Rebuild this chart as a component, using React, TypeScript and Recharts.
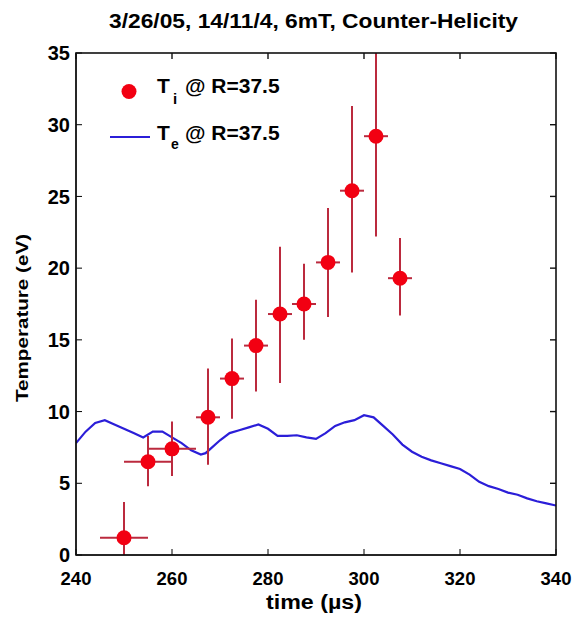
import React from 'react';
import {
  ComposedChart,
  Line,
  Scatter,
  ErrorBar,
  XAxis,
  YAxis,
} from 'recharts';

// Ti points (time in µs, temperature in eV) with error bounds
const tiTime = [250, 255, 260, 267.5, 272.5, 277.5, 282.5, 287.5, 292.5, 297.5, 302.5, 307.5];
const tiValue = [1.2, 6.5, 7.4, 9.6, 12.3, 14.6, 16.8, 17.5, 20.4, 25.4, 29.2, 19.3];
const tiLow = [0, 4.8, 5.5, 6.3, 9.5, 11.4, 12.0, 15.0, 16.6, 19.7, 22.2, 16.7];
const tiHigh = [3.7, 8.3, 9.3, 13.0, 15.1, 17.8, 21.5, 20.3, 24.2, 31.3, 35, 22.1];
const tiHalfWidth = [5, 5, 5, 2.5, 2.5, 2.5, 2.5, 2.5, 2.5, 2.5, 2.5, 2.5];

// Te trace
const teTime = [
  240, 242, 244, 246, 248, 250, 252, 254, 256, 258, 260, 262, 264, 266, 267, 268, 270, 272, 274,
  276, 278, 280, 282, 284, 286, 288, 290, 292, 294, 296, 298, 300, 302, 304, 306, 308, 310, 312,
  314, 316, 318, 320, 322, 324, 326, 328, 330, 332, 334, 336, 338, 340,
];
const teValue = [
  7.8, 8.6, 9.2, 9.4, 9.1, 8.8, 8.5, 8.2, 8.6, 8.6, 8.2, 7.8, 7.3, 7.0, 7.1, 7.4, 8.0, 8.5, 8.7,
  8.9, 9.1, 8.8, 8.3, 8.3, 8.35, 8.2, 8.1, 8.5, 9.0, 9.25, 9.4, 9.75, 9.6, 9.0, 8.4, 7.7, 7.2, 6.85,
  6.6, 6.4, 6.2, 6.0, 5.6, 5.1, 4.8, 4.6, 4.35, 4.2, 3.95, 3.75, 3.6, 3.45,
];

const xTicks = [240, 260, 280, 300, 320, 340];
const yTicks = [0, 5, 10, 15, 20, 25, 30, 35];
const xDomain = [240, 340];
const yDomain = [0, 35];

const tiData = tiTime.map((t, i) => ({
  t,
  ti: tiValue[i],
  tiErr: [tiValue[i] - tiLow[i], tiHigh[i] - tiValue[i]],
  tErr: tiHalfWidth[i],
}));
const teData = teTime.map((t, i) => ({ t, te: teValue[i] }));

const FONT = '"Liberation Sans", Arial, sans-serif';

// plot box (matches the chart margins / axis sizes below)
const BOX = { left: 76, top: 53, width: 480, height: 502 };
const px = (v: number) => BOX.left + ((v - xDomain[0]) / (xDomain[1] - xDomain[0])) * BOX.width;
const py = (v: number) => BOX.top + BOX.height - ((v - yDomain[0]) / (yDomain[1] - yDomain[0])) * BOX.height;

const LeftTick = (props: any) => {
  const { x, y, payload } = props;
  return (
    <g>
      <line x1={x} x2={x + 6} y1={y} y2={y} stroke="#000" strokeWidth={1} />
      <text x={x - 6} y={y} dy="0.36em" textAnchor="end" fontFamily={FONT} fontWeight="bold" fontSize={20} fill="#000">
        {payload.value}
      </text>
    </g>
  );
};

const BottomTick = (props: any) => {
  const { x, y, payload } = props;
  return (
    <g>
      <line x1={x} x2={x} y1={y - 6} y2={y} stroke="#000" strokeWidth={1} />
      <text x={x} y={y + 30} textAnchor="middle" fontFamily={FONT} fontWeight="bold" fontSize={18.5} fill="#000">
        {payload.value}
      </text>
    </g>
  );
};

const Dot = (props: any) => {
  const { cx, cy } = props;
  return <circle cx={cx} cy={cy} r={7.5} fill="#f20012" />;
};

export default function App() {
  return (
    <div style={{ position: 'absolute', left: 0, top: 0, width: 584, height: 617, background: '#fff' }}>
      <ComposedChart width={584} height={617} margin={{ top: 53, right: 28, bottom: 0, left: 0 }}>
        <XAxis
          type="number"
          dataKey="t"
          domain={xDomain}
          ticks={xTicks}
          allowDataOverflow
          height={62}
          tickSize={0}
          tickMargin={0}
          tickLine={false}
          axisLine={{ stroke: '#000' }}
          tick={<BottomTick />}
        />
        <YAxis
          type="number"
          domain={yDomain}
          ticks={yTicks}
          allowDataOverflow
          width={76}
          tickSize={0}
          tickMargin={0}
          tickLine={false}
          axisLine={{ stroke: '#000' }}
          tick={<LeftTick />}
        />
        <Line
          data={teData}
          dataKey="te"
          type="linear"
          stroke="#2b1ed8"
          strokeWidth={2.2}
          dot={false}
          activeDot={false}
          isAnimationActive={false}
        />
        <Scatter data={tiData} dataKey="ti" shape={<Dot />} isAnimationActive={false}>
          <ErrorBar dataKey="tiErr" direction="y" width={0} stroke="#bb2a3e" strokeWidth={2} isAnimationActive={false} />
          <ErrorBar dataKey="tErr" direction="x" width={0} stroke="#bb2a3e" strokeWidth={2} isAnimationActive={false} />
        </Scatter>
      </ComposedChart>
      <svg
        width={584}
        height={617}
        style={{ position: 'absolute', left: 0, top: 0, pointerEvents: 'none' }}
        fontFamily={FONT}
        fontWeight="bold"
      >
        {/* box outline with inward ticks on the top and right edges */}
        <rect
          x={BOX.left}
          y={BOX.top}
          width={BOX.width}
          height={BOX.height}
          fill="none"
          stroke="#111"
          strokeWidth={1.6}
        />
        {xTicks.map((v) => (
          <line key={'t' + v} x1={px(v)} x2={px(v)} y1={BOX.top} y2={BOX.top + 6} stroke="#111" strokeWidth={1.4} />
        ))}
        {yTicks.map((v) => (
          <line
            key={'r' + v}
            x1={BOX.left + BOX.width - 6}
            x2={BOX.left + BOX.width}
            y1={py(v)}
            y2={py(v)}
            stroke="#111"
            strokeWidth={1.4}
          />
        ))}
        <text x={313.5} y={28} textAnchor="middle" fontSize={20} textLength={409} lengthAdjust="spacingAndGlyphs">
          3/26/05, 14/11/4, 6mT, Counter-Helicity
        </text>
        <text x={314} y={609} textAnchor="middle" fontSize={20} textLength={96} lengthAdjust="spacingAndGlyphs">
          time (µs)
        </text>
        <text
          transform="translate(28,318) rotate(-90)"
          textAnchor="middle"
          fontSize={16}
          textLength={168}
          lengthAdjust="spacingAndGlyphs"
        >
          Temperature (eV)
        </text>
        {/* legend */}
        <circle cx={129} cy={91.5} r={7.5} fill="#f20012" />
        <text x={157} y={93} fontSize={21}>T</text>
        <text x={173} y={104} fontSize={15}>i</text>
        <text x={185} y={93} fontSize={21}>@ R=37.5</text>
        <line x1={110} x2={150} y1={137} y2={137} stroke="#2b1ed8" strokeWidth={2.2} />
        <text x={157} y={140} fontSize={21}>T</text>
        <text x={171} y={149} fontSize={14}>e</text>
        <text x={185} y={140} fontSize={21}>@ R=37.5</text>
      </svg>
    </div>
  );
}
